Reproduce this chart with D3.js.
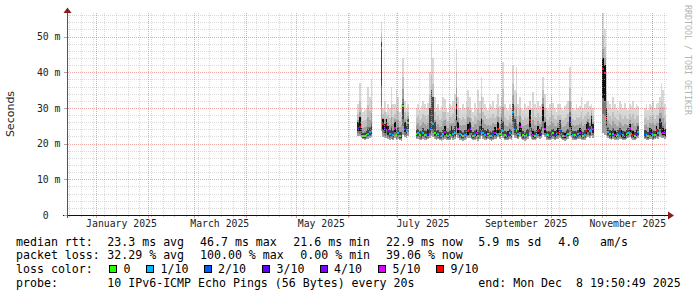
<!DOCTYPE html>
<html>
<head>
<meta charset="utf-8">
<script src="https://cdn.jsdelivr.net/npm/d3@7"></script>
<style>
  html, body { margin: 0; padding: 0; background: #fff; }
  svg { display: block; }
  text { white-space: pre; }
</style>
</head>
<body>
<script>
// smokeping style year graph, one value per day starting on firstDay
// null = no answer at all (100% loss, nothing drawn)
const firstDay = new Date(2025, 5, 7);

const medianMs = [
  24.4, 24.6, 23.2, 22.0, 22.0, 22.3, 22.8, 23.2, 23.5, null,
  null, null, null, null, 46.7, 25.5, 24.0, 25.3, 23.4, 22.6,
  23.0, 22.4, 24.5, 22.3, 23.1, 22.2, 22.0, 30.5, 24.2, 23.6,
  25.9, null, null, null, null, 22.6, 22.9, 22.4, 22.2, 23.0,
  22.5, 22.3, 22.8, 24.0, 26.0, 25.5, 23.0, 22.4, 22.7, 22.2,
  22.0, 22.6, 23.3, 22.5, 22.1, 22.4, 23.2, 22.6, 23.0, 30.3,
  24.1, 22.6, 22.3, 22.0, 22.5, 22.8, 23.4, 24.0, 22.6, 22.2,
  22.4, 22.9, 22.1, 23.3, 25.2, 23.0, 22.5, 22.3, 22.7, 22.2,
  22.0, 22.4, 23.0, 22.6, 24.1, 22.8, 26.0, 23.5, 22.3, 22.1,
  22.4, 22.9, 22.5, 29.0, 24.0, 23.5, 22.6, 24.7, 22.9, 22.3,
  22.0, 22.5, 22.8, 26.6, 23.1, 22.4, 22.2, 22.6, 23.4, 22.8,
  23.3, 29.6, 24.0, 22.5, 22.3, 22.1, 22.6, 22.9, 22.4, 22.7,
  23.1, 23.5, 22.6, 22.2, 22.0, 22.4, 22.8, 26.6, 23.2, 22.5,
  22.3, 22.1, 22.6, 23.0, 22.4, 22.2, 22.5, 23.6, 24.2, 23.4,
  27.3, 24.0, null, null, null, null, null, 41.0, 39.7, 27.1,
  23.2, 22.6, 22.3, 22.8, 22.4, 22.1, 22.5, 23.0, 22.6, 22.3,
  22.2, 22.7, 23.1, 24.4, 22.6, 22.4, 22.1, 22.8, 23.3, null,
  null, null, 22.6, 22.4, 22.2, 23.0, 22.8, 22.3, 22.5, 23.4,
  22.9, 26.1, 24.0, 23.1, 22.9
];

// top of the dark smoke around the median
const coreMs = [
  26.0, 27.5, 24.5, 23.0, 23.0, 23.4, 24.0, 24.3, 25.0, null,
  null, null, null, null, 48.5, 27.0, 25.5, 27.0, 25.0, 23.8,
  24.5, 23.5, 26.0, 23.5, 24.5, 23.3, 23.2, 31.0, 26.0, 25.0,
  27.0, null, null, null, null, 23.8, 24.0, 23.5, 23.3, 24.3,
  23.6, 23.4, 24.2, 30.0, 35.0, 33.0, 26.0, 23.5, 23.8, 23.3,
  23.1, 23.8, 25.0, 23.6, 23.2, 23.6, 24.8, 23.8, 25.0, 31.0,
  26.0, 23.8, 23.4, 23.1, 23.7, 24.0, 25.5, 26.0, 23.8, 23.3,
  23.6, 24.2, 23.2, 25.0, 27.0, 24.5, 23.7, 23.4, 24.0, 23.3,
  23.1, 23.6, 24.6, 23.8, 26.0, 24.0, 27.0, 26.0, 23.5, 23.2,
  23.6, 24.2, 23.6, 31.0, 27.0, 25.0, 23.8, 26.0, 24.3, 23.4,
  23.1, 23.7, 24.0, 29.4, 24.4, 23.6, 23.3, 23.8, 25.0, 24.0,
  24.6, 30.2, 26.0, 23.6, 23.4, 23.2, 23.8, 24.2, 23.5, 23.9,
  24.5, 26.6, 23.8, 23.3, 23.1, 23.5, 24.0, 27.5, 24.8, 23.6,
  23.4, 23.2, 23.8, 24.4, 23.5, 23.3, 23.7, 25.5, 26.0, 24.8,
  27.6, 25.5, null, null, null, null, null, 44.0, 42.0, 30.0,
  24.5, 23.8, 23.4, 24.2, 23.5, 23.2, 23.7, 24.4, 23.8, 23.4,
  23.3, 23.9, 24.5, 25.5, 23.8, 23.5, 23.2, 24.0, 25.0, null,
  null, null, 23.8, 23.5, 23.3, 24.4, 24.0, 23.4, 23.6, 25.0,
  24.2, 27.0, 26.0, 24.5, 24.0
];

// slowest ping of the day (top of the smoke)
const maxMs = [
  31, 37, 30, 29, 29.5, 30, 36, 33, 38, null,
  null, null, null, null, 54, 30, 32, 29, 31, 30,
  36, 31, 31, 35, 33, 29, 31, 44, 32, 30,
  31, null, null, null, null, 30, 31, 29.5, 30.5, 32,
  31, 30, 31.5, 40, 48, 44, 33, 30, 31, 29.5,
  30.5, 33, 32.5, 30, 29, 31, 30.5, 32, 34, 46.5,
  33, 30, 29.5, 31, 30, 32, 35, 33, 30, 29,
  31.5, 30, 35, 32, 38.7, 33, 31, 30, 29.5, 31,
  30.5, 32, 30, 31, 34, 30.5, 33, 43, 31, 30,
  29.5, 31, 30, 42, 35, 41.5, 31, 33, 30, 29.5,
  31, 30, 30.5, 32, 30, 34.5, 31, 30, 32, 30.5,
  31, 38.7, 34, 30, 29.5, 31, 33.5, 31.5, 30, 29,
  31, 31, 30, 29.5, 30.5, 31, 32, 41.5, 32, 30,
  29.5, 31, 30, 30.5, 33, 30, 31, 31.5, 32, 30.5,
  31, 30, null, null, null, null, null, 56.5, 52, 40,
  32, 31, 30, 33, 31, 30, 29.5, 32, 31, 30,
  31.5, 30, 29.5, 31, 30.5, 32, 30, 31, 30.5, null,
  null, null, 30, 31, 29.5, 31, 30.5, 32, 30, 31,
  31.5, 33, 37, 35, 31
];

// fastest ping of the day (bottom of the smoke)
const minMs = [
  22.2, 22.0, 21.5, 21.2, 21.1, 21.3, 21.4, 21.6, 21.8, null,
  null, null, null, null, 23.5, 21.8, 21.5, 21.7, 21.3, 21.0,
  21.2, 21.0, 21.6, 20.9, 21.3, 21.0, 20.8, 22.5, 21.8, 21.5,
  22.0, null, null, null, null, 21.2, 21.4, 21.0, 20.9, 21.3,
  21.1, 21.0, 21.2, 21.6, 22.0, 21.8, 21.3, 21.0, 21.2, 20.9,
  20.8, 21.1, 21.4, 21.0, 20.9, 21.0, 21.5, 21.1, 21.3, 22.4,
  21.6, 21.1, 20.9, 20.8, 21.1, 21.3, 21.5, 21.7, 21.2, 20.9,
  21.0, 21.3, 20.8, 21.4, 22.0, 21.4, 21.1, 21.0, 21.2, 20.9,
  20.8, 21.0, 21.4, 21.2, 21.8, 21.3, 22.0, 21.6, 21.0, 20.9,
  21.0, 21.3, 21.1, 22.5, 21.7, 21.6, 21.2, 21.8, 21.3, 21.0,
  20.8, 21.1, 21.3, 22.0, 21.4, 21.0, 20.9, 21.2, 21.6, 21.3,
  21.5, 22.3, 21.8, 21.1, 21.0, 20.9, 21.2, 21.4, 21.0, 21.2,
  21.4, 21.6, 21.2, 20.9, 20.8, 21.0, 21.3, 22.0, 21.5, 21.1,
  21.0, 20.9, 21.2, 21.4, 21.0, 20.9, 21.1, 21.6, 21.8, 21.5,
  22.0, 21.7, null, null, null, null, null, 23.0, 22.5, 22.0,
  21.5, 21.2, 21.0, 21.3, 21.1, 20.9, 21.1, 21.4, 21.2, 21.0,
  20.9, 21.2, 21.5, 21.8, 21.2, 21.1, 20.9, 21.3, 21.6, null,
  null, null, 21.2, 21.1, 20.9, 21.4, 21.3, 21.0, 21.2, 21.6,
  21.4, 21.9, 21.6, 21.5, 21.4
];

// lost pings out of 10
const lossCount = [
  3, 9, 3, 0, 0, 0, 1, 1, 1, null,
  null, null, null, null, 1, 9, 3, 9, 4, 1,
  2, 1, 5, 0, 1, 0, 2, 0, 3, 1,
  0, null, null, null, null, 0, 1, 0, 2, 1,
  0, 1, 3, 2, 1, 1, 0, 0, 1, 2,
  0, 1, 5, 0, 1, 0, 3, 1, 1, 9,
  5, 1, 0, 0, 1, 2, 9, 3, 1, 0,
  1, 5, 0, 2, 9, 1, 1, 3, 0, 1,
  0, 2, 5, 1, 9, 0, 5, 1, 0, 1,
  3, 1, 0, 1, 2, 0, 1, 5, 3, 0,
  1, 0, 2, 9, 1, 5, 0, 1, 9, 3,
  1, 9, 5, 1, 0, 2, 1, 0, 3, 1,
  9, 2, 1, 0, 5, 1, 0, 3, 9, 1,
  0, 2, 1, 5, 3, 0, 1, 9, 4, 1,
  9, 4, null, null, null, null, null, 9, 5, 9,
  1, 0, 3, 1, 5, 0, 1, 2, 9, 1,
  3, 0, 1, 5, 1, 9, 0, 3, 1, null,
  null, null, 2, 1, 0, 3, 5, 1, 0, 9,
  1, 4, 3, 5, 4
];

const lossLevels = [0, 1, 2, 3, 4, 5, 9];
const lossLabels = ["0", "1/10", "2/10", "3/10", "4/10", "5/10", "9/10"];
const lossColors = ["#26ff00", "#00b8ff", "#0059ff", "#5e00ff", "#7e00ff", "#dd00ff", "#ff0000"];

const yTicksMs = [0, 10, 20, 30, 40, 50];
const monthLabelDates = ["2025-01-16", "2025-03-16", "2025-05-16", "2025-07-16", "2025-09-16", "2025-11-16"];
const monthLabels = ["January 2025", "March 2025", "May 2025", "July 2025", "September 2025", "November 2025"];

const rttStats = ["23.3 ms avg", "46.7 ms max", "21.6 ms min", "22.9 ms now", "5.9 ms sd", "4.0", "am/s"];
const lossStats = ["32.29 % avg", "100.00 % max", "0.00 % min", "39.06 % now"];
const probeText = "10 IPv6-ICMP Echo Pings (56 Bytes) every 20s";
const endText = "end: Mon Dec  8 19:50:49 2025";

// ---------------------------------------------------------------
const W = 697, H = 297;
const plot = {left: 67, right: 667, top: 13, bottom: 215};
const mono = "'DejaVu Sans Mono', monospace";
let svg = null;
let x, y = null;

setupScales();
appendSvg("body");
appendSmoke();
appendGrid();
appendAxes();
appendTitles();
appendLegend();

function setupScales() {
  // month boundaries measured on the picture: Jan 1 -> 96px, Dec 1 -> 652.3px
  x = d3.scaleTime()
    .domain([new Date(2025, 0, 1), new Date(2025, 11, 1)])
    .range([96, 652.3]);
  y = d3.scaleLinear()
    .domain([0, 56.6])
    .range([plot.bottom, plot.top]);
}

function appendSvg(domElement) {
  svg = d3.select(domElement).append("svg")
    .attr("width", W)
    .attr("height", H);
  svg.append("rect")
    .attr("width", W).attr("height", H)
    .style("fill", "#fff");
}

function coreShade(loss) {
  if (loss >= 5) return "#0e0e0e";
  if (loss >= 3) return "#262626";
  return "#444";
}

function appendSmoke() {
  const days = medianMs.map((m, i) => ({
    x0: Math.round(x(d3.timeDay.offset(firstDay, i))),
    x1: Math.round(x(d3.timeDay.offset(firstDay, i + 1))),
    med: m, core: coreMs[i], max: maxMs[i], min: minMs[i], loss: lossCount[i]
  })).filter(d => d.med !== null);

  const g = svg.append("g").attr("class", "smoke")
    .attr("shape-rendering", "crispEdges");

  function band(cls, lo, hi, fill) {
    g.selectAll("rect." + cls)
      .data(days)
      .enter()
      .append("rect")
      .attr("class", cls)
      .attr("x", d => d.x0)
      .attr("width", d => d.x1 - d.x0)
      .attr("y", d => y(hi(d)))
      .attr("height", d => Math.max(1, y(lo(d)) - y(hi(d))))
      .style("fill", fill);
  }

  // outer pings light, inner pings dark
  band("s1", d => d.min, d => d.max, "#d8d8d8");
  band("s2", d => d.min, d => d.med + (d.max - d.med) * 0.6, "#c0c0c0");
  band("s3", d => d.min, d => d.med + (d.max - d.med) * 0.35, "#a0a0a0");
  band("s4", d => d.min + (d.med - d.min) * 0.3,
             d => Math.max(d.core, d.med + (d.max - d.med) * 0.15), "#787878");
  band("s5", d => d.med - (d.med - d.min) * 0.45, d => d.core, d => coreShade(d.loss));

  // median, coloured by packet loss
  g.selectAll("rect.median")
    .data(days)
    .enter()
    .append("rect")
    .attr("class", "median")
    .attr("x", d => d.x0)
    .attr("width", d => d.x1 - d.x0)
    .attr("y", d => Math.round(y(d.med)) - 1)
    .attr("height", 2)
    .style("fill", d => lossColors[d3.bisectRight(lossLevels, d.loss) - 1]);
}

function appendGrid() {
  const t0 = x.invert(plot.left), t1 = x.invert(plot.right);
  const yMinor = d3.range(2, 57, 2).filter(v => v % 10 !== 0);
  const weeks = d3.timeMonday.range(t0, t1);
  const months = d3.timeMonth.range(t0, t1);
  const g = svg.append("g").attr("class", "grid")
    .attr("shape-rendering", "crispEdges")
    .style("stroke-dasharray", "1,1");

  function hLines(vals, color) {
    g.selectAll(null).data(vals).enter().append("line")
      .attr("x1", plot.left + 1).attr("x2", plot.right)
      .attr("y1", d => Math.round(y(d)) + 0.5)
      .attr("y2", d => Math.round(y(d)) + 0.5)
      .style("stroke", color);
  }
  function vLines(vals, color) {
    g.selectAll(null).data(vals).enter().append("line")
      .attr("x1", d => Math.round(x(d)) + 0.5)
      .attr("x2", d => Math.round(x(d)) + 0.5)
      .attr("y1", plot.top).attr("y2", plot.bottom)
      .style("stroke", color);
  }
  hLines(yMinor, "rgba(186,186,186,0.55)");
  vLines(weeks, "rgba(186,186,186,0.55)");
  hLines(yTicksMs.slice(1), "rgba(230,80,80,0.5)");
  vLines(months, "rgba(230,80,80,0.5)");

  // small marks under the time axis
  [[weeks, 2, "#c8c8c8"], [months, 3, "#eaa0a0"]].forEach(([vals, len, col]) => {
    const a = svg.append("g")
      .attr("transform", `translate(0,${plot.bottom})`)
      .call(d3.axisBottom(x).tickValues(vals).tickSize(len).tickFormat(""));
    a.select(".domain").remove();
    a.selectAll("line").style("stroke", col).attr("shape-rendering", "crispEdges");
  });
}

function appendAxes() {
  // axis lines
  svg.append("line")
    .attr("x1", 63).attr("x2", 669)
    .attr("y1", plot.bottom + 0.5).attr("y2", plot.bottom + 0.5)
    .style("stroke", "#111")
    .attr("shape-rendering", "crispEdges");
  svg.append("line")
    .attr("x1", plot.left + 0.5).attr("x2", plot.left + 0.5)
    .attr("y1", plot.bottom + 3).attr("y2", plot.top - 1)
    .style("stroke", "#555")
    .attr("shape-rendering", "crispEdges");

  // arrows
  svg.append("path")
    .attr("d", `M${plot.left - 3.5},${plot.top} L${plot.left + 4.5},${plot.top} L${plot.left + 0.5},${plot.top - 5.5} Z`)
    .style("fill", "#8b1c1c");
  svg.append("path")
    .attr("d", `M668,${plot.bottom - 3.5} L668,${plot.bottom + 4.5} L674,${plot.bottom + 0.5} Z`)
    .style("fill", "#8b1c1c");

  // Y labels
  const ya = svg.append("g")
    .attr("transform", `translate(${plot.left},0)`)
    .call(d3.axisLeft(y)
      .tickValues(yTicksMs)
      .tickSize(3)
      .tickPadding(3.5)
      .tickFormat(d => d === 0 ? " 0  " : d + " m"));
  ya.select(".domain").remove();
  ya.selectAll("line").style("stroke", "#aaa").attr("shape-rendering", "crispEdges");
  ya.selectAll("text")
    .style("font-family", mono)
    .style("font-size", "9.8px")
    .style("fill", "#222");

  // month labels centred in their month
  const xa = svg.append("g")
    .attr("transform", `translate(0,${plot.bottom})`)
    .call(d3.axisBottom(x)
      .tickValues(monthLabelDates.map(s => d3.timeParse("%Y-%m-%d")(s)))
      .tickSize(0)
      .tickPadding(5.5)
      .tickFormat((d, i) => monthLabels[i]));
  xa.select(".domain").remove();
  xa.selectAll("text")
    .style("font-family", mono)
    .style("font-size", "9.8px")
    .style("fill", "#222");
}

function appendTitles() {
  svg.append("text")
    .attr("transform", "translate(14,114) rotate(-90)")
    .style("text-anchor", "middle")
    .style("font-family", "'DejaVu Sans', sans-serif")
    .style("font-size", "11px")
    .style("fill", "#222")
    .text("Seconds");

  svg.append("text")
    .attr("transform", "translate(685,5) rotate(90)")
    .style("font-family", mono)
    .style("font-size", "8.3px")
    .style("fill", "#b4b4b4")
    .text("RRDTOOL / TOBI OETIKER");
}

function appendLegend() {
  const rows = [245.5, 259.2, 272.9, 286.6];
  const g = svg.append("g")
    .style("font-family", mono)
    .style("font-size", "11.6px")
    .style("fill", "#000");

  function put(txt, px, py) {
    g.append("text").attr("x", px).attr("y", py).text(txt);
  }

  put("median rtt:", 16, rows[0]);
  [107.3, 200, 293.3, 386, 478.3, 558.3, 600].forEach((px, i) => put(rttStats[i], px, rows[0]));

  put("packet loss:", 16, rows[1]);
  [107.3, 200, 300.3, 386].forEach((px, i) => put(lossStats[i], px, rows[1]));

  put("loss color:", 16, rows[2]);
  const boxX = [109, 146, 203.5, 262, 319.5, 378, 436];
  g.selectAll("rect.swatch")
    .data(lossColors)
    .enter()
    .append("rect")
    .attr("class", "swatch")
    .attr("x", (d, i) => boxX[i] + 0.5)
    .attr("y", 265.5)
    .attr("width", 7)
    .attr("height", 7)
    .style("fill", d => d)
    .style("stroke", "#000")
    .attr("shape-rendering", "crispEdges");
  boxX.forEach((px, i) => put(lossLabels[i], px + 14.5, rows[2]));

  put("probe:", 16, rows[3]);
  put(probeText, 107.3, rows[3]);
  put(endText, 478.3, rows[3]);
}
</script>
</body>
</html>
